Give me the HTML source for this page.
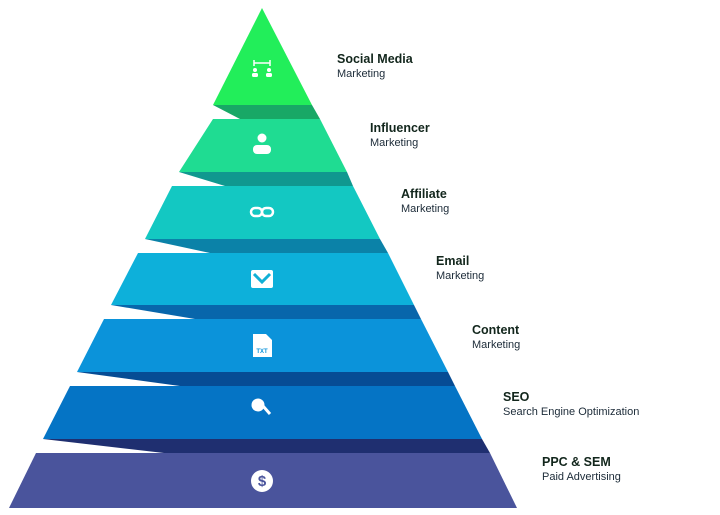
<!DOCTYPE html>
<html><head><style>
body{margin:0;background:#fff;width:720px;height:515px;overflow:hidden;font-family:"Liberation Sans",sans-serif}
.t{position:absolute;font-size:11px;line-height:15px;color:#1c2b38}
.t b{font-size:12.5px;font-weight:600;display:block;color:#12261c}
</style></head><body>
<svg width="720" height="515" style="position:absolute;left:0;top:0">
<!-- shadows -->
<polygon points="213,105 312,105 320,119 240,119" fill="#18a866"/>
<polygon points="179,172 347,172 353,186 225,186" fill="#10988f"/>
<polygon points="145,239 380,239 388,253 210,253" fill="#0b82a8"/>
<polygon points="111,305 414,305 421,319 195,319" fill="#0866ab"/>
<polygon points="77,372 448,372 455,386 180,386" fill="#064c94"/>
<polygon points="43,439 482,439 490,453 164,453" fill="#1f2f70"/>
<!-- layers -->
<polygon points="262,8 312,105 213,105" fill="#22ee5a"/>
<polygon points="213,119 320,119 347,172 179,172" fill="#1fdc92"/>
<polygon points="172,186 353,186 380,239 145,239" fill="#13c8c2"/>
<polygon points="138,253 388,253 414,305 111,305" fill="#0db0da"/>
<polygon points="104,319 421,319 448,372 77,372" fill="#0b93da"/>
<polygon points="70,386 455,386 482,439 43,439" fill="#0574c5"/>
<polygon points="36,453 490,453 517,508 9,508" fill="#4a549c"/>
<!-- icons -->
<g fill="#fff" stroke="#fff">
<line x1="254" y1="63" x2="270" y2="63" stroke-width="1.5"/>
<line x1="254" y1="60" x2="254" y2="66" stroke-width="1.5"/><line x1="270" y1="60" x2="270" y2="66" stroke-width="1.5"/>
<circle cx="255" cy="70" r="2" stroke="none"/><rect x="252" y="73" width="6" height="4" rx="1.5" stroke="none"/>
<circle cx="269" cy="70" r="2" stroke="none"/><rect x="266" y="73" width="6" height="4" rx="1.5" stroke="none"/>
<circle cx="262" cy="138" r="4.5" stroke="none"/><rect x="253" y="145" width="18" height="9" rx="4" stroke="none"/>
<rect x="251" y="208" width="11" height="8" rx="4" fill="none" stroke-width="2.5"/>
<rect x="262" y="208" width="11" height="8" rx="4" fill="none" stroke-width="2.5"/>
<rect x="251" y="270" width="22" height="18" rx="2" stroke="none"/>
<polyline points="254,274 262,282 270,274" fill="none" stroke="#10b0d6" stroke-width="3"/>
<polygon points="253,334 266,334 272,340 272,357 253,357" stroke="none"/>
<line x1="263" y1="406" x2="270" y2="414" stroke-width="3"/>
<circle cx="258" cy="405" r="6.5" stroke="none"/>
<circle cx="262" cy="481" r="11" stroke="none"/>
</g>
<text x="262" y="353" font-size="6" font-weight="bold" fill="#0b93da" text-anchor="middle" font-family="Liberation Sans">TXT</text>
<text x="262" y="486" font-size="15" font-weight="bold" fill="#4a549c" text-anchor="middle" font-family="Liberation Sans">$</text>
</svg>
<div class="t" style="left:337px;top:52px"><b>Social Media</b>Marketing</div>
<div class="t" style="left:370px;top:121px"><b>Influencer</b>Marketing</div>
<div class="t" style="left:401px;top:187px"><b>Affiliate</b>Marketing</div>
<div class="t" style="left:436px;top:254px"><b>Email</b>Marketing</div>
<div class="t" style="left:472px;top:323px"><b>Content</b>Marketing</div>
<div class="t" style="left:503px;top:390px"><b>SEO</b>Search Engine Optimization</div>
<div class="t" style="left:542px;top:455px"><b>PPC &amp; SEM</b>Paid Advertising</div>
</body></html>
